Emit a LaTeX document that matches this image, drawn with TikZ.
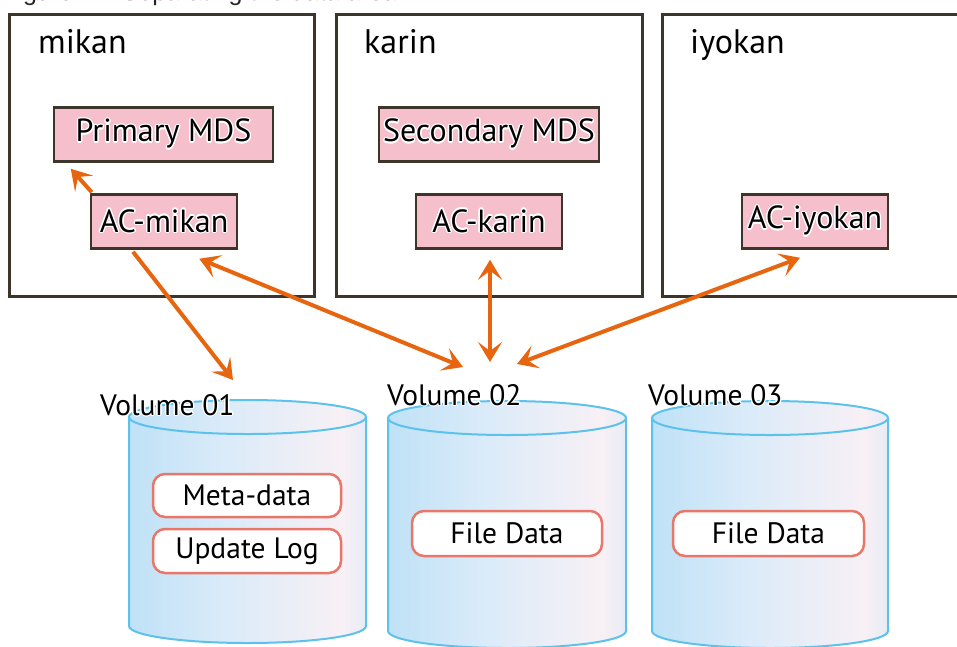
\documentclass[tikz,border=0pt]{standalone}
\usepackage{fontspec}
\setmainfont{PT Sans}
\newfontfamily\capfont{Liberation Sans}
\usepackage[copies]{contour}
\contourlength{1.3pt}
\usetikzlibrary{arrows.meta}
\definecolor{hostline}{HTML}{3D3529}
\definecolor{pinkfill}{HTML}{F5C0CB}
\definecolor{arrowc}{HTML}{E8650F}
\definecolor{cylline}{HTML}{5CC2EC}
\definecolor{cylA}{HTML}{8FCDF0}
\definecolor{cylB}{HTML}{AEDBF5}
\definecolor{cylC}{HTML}{DAEBF9}
\definecolor{cylD}{HTML}{F8F0F5}
\definecolor{boxred}{HTML}{E8776A}
\pgfdeclarehorizontalshading{cylbody}{100bp}{color(0bp)=(cylA); color(12bp)=(cylB); color(45bp)=(cylC); color(70bp)=(cylD); color(92bp)=(cylB); color(100bp)=(cylA)}
\tikzset{
  host/.style={draw=hostline, line width=3pt, fill=white, inner sep=0pt},
  hosttitle/.style={anchor=base west, inner sep=0pt, font=\fontsize{34}{38}\selectfont},
  svc/.style={draw=hostline, line width=2.5pt, fill=pinkfill, inner sep=0pt, minimum height=54pt, font=\fontsize{32}{36}\selectfont},
  databox/.style={draw=boxred, line width=2.5pt, fill=white, rounded corners=12pt, inner sep=0pt, font=\fontsize{29.5}{34}\selectfont},
  vollabel/.style={anchor=base west, inner sep=0pt, font=\fontsize{29.5}{34}\selectfont},
  cylshape/.style={shading=cylbody},
  cyledge/.style={draw=cylline, line width=2pt},
  arr/.style={draw=arrowc, line width=4pt, -{Stealth[length=20pt,width=24pt,inset=9pt]}},
  darr/.style={draw=arrowc, line width=4pt, {Stealth[length=20pt,width=24pt,inset=9pt]}-{Stealth[length=20pt,width=24pt,inset=9pt]}},
}
\begin{document}
\begin{tikzpicture}[x=1pt,y=-1pt]
\useasboundingbox (0,0) rectangle (957,646);
\clip (0,0) rectangle (957,646);
\fill[white] (0,0) rectangle (957,646);
% caption (cut off at the top, as in the reference)
\node[anchor=base west, inner sep=0pt, font=\capfont\fontsize{25}{29}\selectfont, text=black!85] (cap) at (2,0) {Figure 1.1 Separating the data area};
% hosts
\node[host, minimum width=305pt, minimum height=282pt] (hm) at (162,155.5) {};
\node[host, minimum width=306pt, minimum height=282pt] (hk) at (489,155.5) {};
\node[host, minimum width=306pt, minimum height=282pt] (hi) at (815,155.5) {};
\node[hosttitle] (tm) at (38,53) {mikan};
\node[hosttitle] (tk) at (364,53) {karin};
\node[hosttitle] (ti) at (690,53) {iyokan};
% services
\node[svc, minimum width=219pt] (pmds) at (163.5,134.5) {\contour{white}{Primary MDS}};
\node[svc, minimum width=220pt] (smds) at (489,134.5) {\contour{white}{Secondary MDS}};
\node[svc, minimum width=146pt] (acm) at (164,221.5) {\contour{white}{AC-mikan}};
\node[svc, minimum width=146pt] (ack) at (489,221.5) {\contour{white}{AC-karin}};
\node[svc, minimum width=146pt] (aci) at (815,221.5) {\contour{white}{AC-iyokan}};
% cylinders
\foreach \cx/\rx/\yt/\yb in {247.5/118.5/417/626, 507/119/418/631, 770/118/418/631}{
  \path[cylshape] (\cx-\rx,\yt) -- (\cx-\rx,\yb) arc[start angle=180, end angle=0, x radius=\rx, y radius=17] -- (\cx+\rx,\yt) -- cycle;
  \draw[cyledge] (\cx-\rx,\yt) -- (\cx-\rx,\yb) arc[start angle=180, end angle=0, x radius=\rx, y radius=17] -- (\cx+\rx,\yt);
  \path[cylshape] (\cx,\yt) ellipse[x radius=\rx, y radius=17];
  \draw[cyledge] (\cx,\yt) ellipse[x radius=\rx, y radius=17];
}
\node[vollabel] (v1) at (100,415) {\contour{white}{Volume 01}};
\node[vollabel] (v2) at (387,405) {\contour{white}{Volume 02}};
\node[vollabel] (v3) at (648,405) {\contour{white}{Volume 03}};
% data boxes
\node[databox, minimum width=188pt, minimum height=43pt] (meta) at (247,495.5) {Meta-data};
\node[databox, minimum width=188pt, minimum height=44pt] (ulog) at (247,551) {Update Log};
\node[databox, minimum width=190pt, minimum height=45pt] (fd2) at (507,533.5) {File Data};
\node[databox, minimum width=191pt, minimum height=45pt] (fd3) at (768.5,533.5) {File Data};
% arrow ends near the volumes
\coordinate (t1) at (233,380);
\coordinate (t3) at (463,367);
\coordinate (t4) at (490,362);
\coordinate (t5) at (517,364);
% arrows
\draw[arr] ([shift={(2,-1)}]acm.north west) -- ([shift={(18,6)}]pmds.south west);
\draw[arr] ([shift={(-31,2)}]acm.south) -- (t1);
\draw[darr] ([shift={(-39,9)}]acm.south east) -- (t3);
\draw[darr] ([shift={(1,10)}]ack.south) -- (t4);
\draw[darr] ([shift={(-15,8)}]aci.south) -- (t5);
\end{tikzpicture}
\end{document}
